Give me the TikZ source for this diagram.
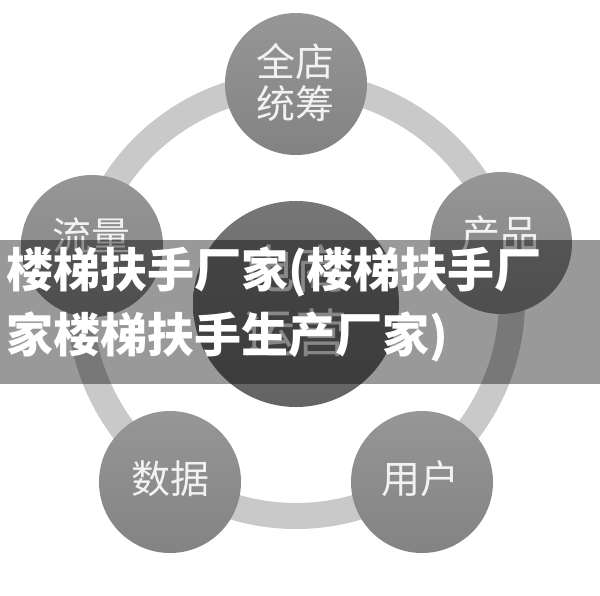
\documentclass[tikz,border=0pt]{standalone}
\usepackage{fontspec}
\newfontfamily\cjk{Noto Sans CJK SC}
\definecolor{ringgray}{HTML}{C9C9C9}
\definecolor{ctop}{HTML}{969696}
\definecolor{cbot}{HTML}{838383}
\definecolor{bigtop}{HTML}{767676}
\definecolor{bigbot}{HTML}{646464}
\definecolor{lbltext}{HTML}{F2F2F2}
\tikzset{
  smallc/.style={circle, minimum size=142pt, inner sep=0pt, top color=ctop, bottom color=cbot, draw=none},
  bigc/.style={circle, minimum size=206pt, inner sep=0pt, top color=bigtop, bottom color=bigbot, draw=none},
  lbl/.style={text=lbltext, align=center, font=\cjk\fontsize{39}{42}\selectfont, inner sep=0pt},
  biglbl/.style={text=lbltext!85!gray, align=center, font=\cjk\fontsize{52}{64}\selectfont, inner sep=0pt},
  bannertext/.style={text=white, anchor=base west, inner sep=0pt, font=\cjk\bfseries\fontsize{47}{65}\selectfont},
}
\begin{document}
\begin{tikzpicture}[x=1pt,y=-1pt]
\useasboundingbox (0,0) rectangle (600,595);
\fill[white] (0,0) rectangle (600,595);
\coordinate (ctr) at (296,300);
\draw[ringgray, line width=26pt] (ctr) circle[radius=216pt];
\node[smallc] (top) at (296,84) {};
\node[smallc] (left) at (92,246) {};
\node[smallc] (right) at (501,243) {};
\node[smallc] (bl) at (170,482) {};
\node[smallc] (br) at (422,482) {};
\node[bigc] (mid) at (296,304) {};
\node[lbl] (ttop) at (295,82) {全店\\统筹};
\node[lbl] (tleft) at (91,236) {流量};
\node[lbl] (tright) at (500,234) {产品};
\node[lbl] (tbl) at (170,479) {数据};
\node[lbl] (tbr) at (420,479) {用户};
\node[biglbl] (tmid) at (295,301) {电商\\运营};
\fill[black, fill opacity=0.4] (0,240) rectangle (600,384);
\node[bannertext] (line1) at (6,287) {楼梯扶手厂家(楼梯扶手厂};
\node[bannertext] (line2) at (6,352) {家楼梯扶手生产厂家)};
\end{tikzpicture}
\end{document}
